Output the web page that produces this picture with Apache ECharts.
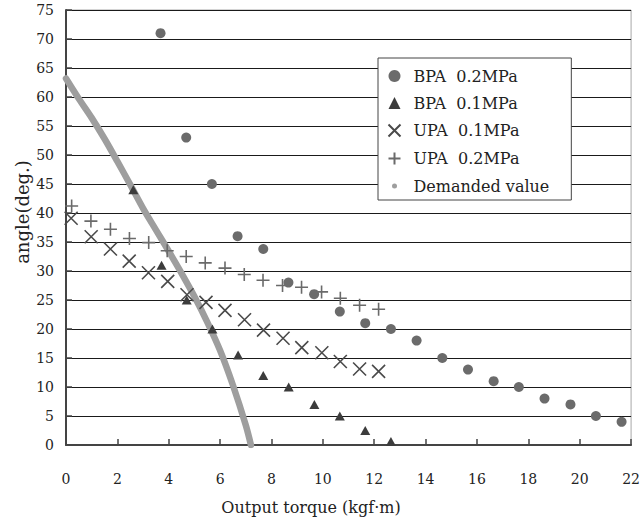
<!DOCTYPE html>
<html>
<head>
<meta charset="utf-8">
<script src="https://cdn.jsdelivr.net/npm/echarts@6/dist/echarts.min.js"></script>
<style>
  html, body { margin: 0; padding: 0; background: #fff; }
  #chart { width: 643px; height: 520px; }
</style>
</head>
<body>
<div id="chart"></div>
<script>
// Output torque (kgf·m) vs. bending angle (deg.)
const bpa02Torque = [3.68, 4.68, 5.68, 6.68, 7.68, 8.66, 9.66, 10.66, 11.65, 12.65, 13.65, 14.65, 15.65, 16.65, 17.63, 18.63, 19.64, 20.63, 21.63];
const bpa02Angle  = [71, 53, 45, 36, 33.8, 28, 26, 23, 21, 20, 18, 15, 13, 11, 10, 8, 7, 5, 4];

const bpa01Torque = [2.62, 3.72, 4.7, 5.7, 6.7, 7.68, 8.67, 9.67, 10.66, 11.65, 12.65];
const bpa01Angle  = [44, 31, 25, 20, 15.5, 12, 10, 7, 5, 2.5, 0.6];

const upa01Torque = [0.2, 0.98, 1.73, 2.46, 3.21, 3.96, 4.71, 5.45, 6.19, 6.95, 7.69, 8.45, 9.18, 9.96, 10.68, 11.43, 12.17];
const upa01Angle  = [39.1, 35.9, 33.8, 31.7, 29.7, 28.2, 25.9, 24.6, 23.2, 21.6, 19.8, 18.4, 16.8, 15.9, 14.4, 13.1, 12.7];

const upa02Torque = [0.22, 0.97, 1.73, 2.47, 3.22, 3.94, 4.68, 5.42, 6.19, 6.94, 7.67, 8.43, 9.17, 9.95, 10.68, 11.43, 12.17];
const upa02Angle  = [41.2, 38.6, 37.2, 35.6, 34.9, 33.5, 32.5, 31.4, 30.5, 29.4, 28.4, 27.5, 27.2, 26.4, 25.3, 24.1, 23.4];

const demandTorque = [0, 0.5, 1, 1.5, 2, 2.5, 3, 3.5, 4, 4.5, 5, 5.5, 6, 6.5, 7, 7.2];
const demandAngle  = [63.2, 59.7, 56.4, 52.8, 48.9, 44.9, 40.8, 37.1, 33.4, 29.6, 25.6, 21.2, 16.3, 10.3, 3.4, 0];

const xTicks = { min: 0, max: 22, step: 2 };
const yTicks = { min: 0, max: 75, step: 5 };

const names = ['BPA  0.2MPa', 'BPA  0.1MPa', 'UPA  0.1MPa', 'UPA  0.2MPa', 'Demanded value'];
const xTitle = 'Output torque (kgf·m)';
const yTitle = 'angle(deg.)';

const pairs = (xs, ys) => xs.map((x, i) => [x, ys[i]]);

const SERIF = '"DejaVu Serif", "Liberation Serif", serif';
const crossPath = 'path://M0,0L10,10M10,0L0,10';
const plusPath = 'path://M5,0L5,10M0,5L10,5';
// small dot inside a larger invisible box so the legend icon stays small
const dotPath = 'path://M0,0M12,12M3.5,6a2.5,2.5 0 1,0 5,0a2.5,2.5 0 1,0 -5,0Z';

const chart = echarts.init(document.getElementById('chart'), null, { renderer: 'svg' });

chart.setOption({
  animation: false,
  backgroundColor: '#ffffff',
  textStyle: { fontFamily: SERIF },
  grid: { left: 66, right: 10, top: 10, bottom: 75, show: true, borderColor: '#a8a8a8', borderWidth: 1 },
  xAxis: {
    type: 'value',
    min: xTicks.min, max: xTicks.max, interval: xTicks.step,
    axisLine: { show: true, onZero: false, lineStyle: { color: '#444', width: 2 } },
    axisTick: { show: true, inside: true, length: 6, lineStyle: { color: '#444', width: 1.5 } },
    axisLabel: { margin: 27, fontFamily: SERIF, fontSize: 14, color: '#222' },
    splitLine: { show: false }
  },
  yAxis: {
    type: 'value',
    min: yTicks.min, max: yTicks.max, interval: yTicks.step,
    axisLine: { show: true, lineStyle: { color: '#444', width: 2 } },
    axisTick: { show: true, inside: true, length: 6, lineStyle: { color: '#444', width: 1.5 } },
    axisLabel: { margin: 12, fontFamily: SERIF, fontSize: 14, color: '#222' },
    splitLine: { show: true, lineStyle: { color: '#1a1a1a', width: 1 } }
  },
  graphic: [
    {
      type: 'text', x: 311, y: 507,
      style: { text: xTitle, font: '16px ' + SERIF, fill: '#222', align: 'center', verticalAlign: 'middle' }
    },
    {
      type: 'text', x: 22, y: 212, rotation: Math.PI / 2,
      style: { text: yTitle, font: '18px ' + SERIF, fill: '#222', align: 'center', verticalAlign: 'middle' }
    }
  ],
  legend: {
    orient: 'vertical',
    left: 378, top: 58,
    padding: [10, 22, 6, 8],
    itemWidth: 12, itemHeight: 12, itemGap: 11,
    backgroundColor: '#ffffff',
    borderColor: '#444', borderWidth: 1,
    textStyle: { fontFamily: SERIF, fontSize: 16, color: '#222', padding: [0, 0, 0, 8] },
    data: [
      { name: names[0], icon: 'circle' },
      { name: names[1], icon: 'triangle' },
      { name: names[2] },
      { name: names[3] },
      { name: names[4], icon: dotPath, itemStyle: { color: '#9e9e9e' } }
    ]
  },
  series: [
    {
      name: names[4], type: 'line', z: 1,
      data: pairs(demandTorque, demandAngle),
      smooth: 0.3, showSymbol: false, symbol: 'circle',
      itemStyle: { color: '#9e9e9e' },
      lineStyle: { color: '#9e9e9e', width: 6.5, cap: 'round', join: 'round' }
    },
    {
      name: names[0], type: 'scatter', z: 3,
      data: pairs(bpa02Torque, bpa02Angle),
      symbol: 'circle', symbolSize: 10,
      itemStyle: { color: '#6b6b6b', opacity: 1 }
    },
    {
      name: names[1], type: 'scatter', z: 3,
      data: pairs(bpa01Torque, bpa01Angle),
      symbol: 'triangle', symbolSize: [10, 9],
      itemStyle: { color: '#3c3c3c', opacity: 1 }
    },
    {
      name: names[2], type: 'scatter', z: 2,
      data: pairs(upa01Torque, upa01Angle),
      symbol: crossPath, symbolSize: 13,
      itemStyle: { color: 'none', borderColor: '#4a4a4a', borderWidth: 1.6, opacity: 1 }
    },
    {
      name: names[3], type: 'scatter', z: 2,
      data: pairs(upa02Torque, upa02Angle),
      symbol: plusPath, symbolSize: 13,
      itemStyle: { color: 'none', borderColor: '#6a6a6a', borderWidth: 1.6, opacity: 1 }
    }
  ]
});
</script>
</body>
</html>
